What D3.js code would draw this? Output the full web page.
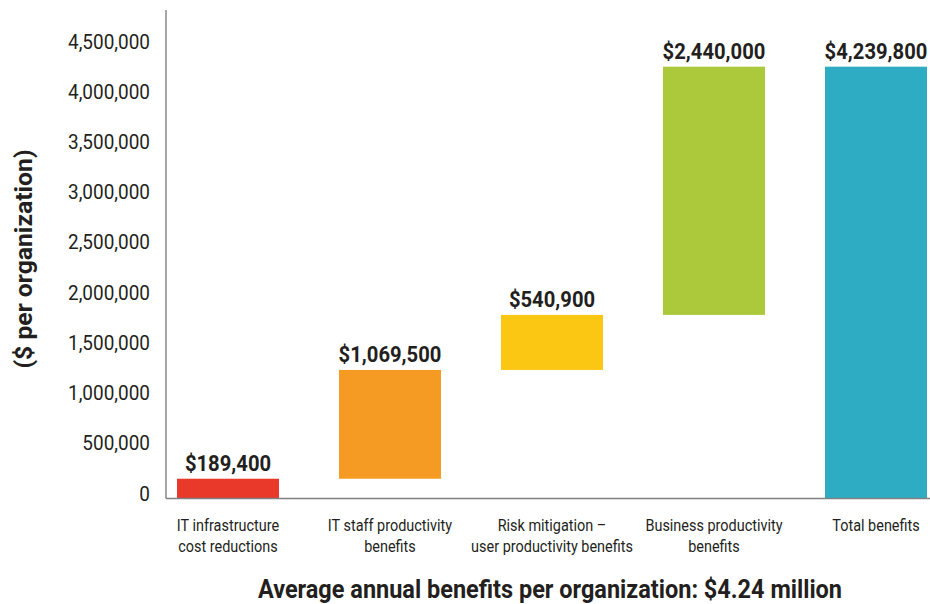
<!DOCTYPE html>
<html><head><meta charset="utf-8">
<script src="https://cdn.jsdelivr.net/npm/d3@7"></script>
<style>
body{margin:0;background:#fff;}
text{font-family:"Liberation Sans Narrow","Arial Narrow","Roboto",sans-serif;fill:#231f20;}
</style></head>
<body><svg id="c" width="930" height="604"></svg>
<script>
const categories = [["IT infrastructure","cost reductions"],["IT staff productivity","benefits"],["Risk mitigation –","user productivity benefits"],["Business productivity","benefits"],["Total benefits"]];
const values = [189400, 1069500, 540900, 2440000, 4239800];
const isTotal = [false, false, false, false, true];
const valueLabels = ["$189,400","$1,069,500","$540,900","$2,440,000","$4,239,800"];
const colors = ["#e8392a","#f59a23","#fcc712","#abc93a","#2eacc4"];
const yTicks = [0,500000,1000000,1500000,2000000,2500000,3000000,3500000,4000000,4500000];

const svg = d3.select("#c");
const keys = categories.map((c,i)=>i);
const x = d3.scaleBand().domain(keys).range([166,938]).paddingInner(0.3704).paddingOuter(0.0679);
const y = d3.scaleLinear().domain([0,4500000]).range([498,40.2]);
// tick labels in the original sit on a slightly tighter grid
const yLab = y.copy().range([498,46]);

function condense(sel, f){
  sel.each(function(){
    const t = d3.select(this);
    const xx = +(t.attr("x")||0);
    const prev = t.attr("transform") || "";
    t.attr("transform", prev + ` translate(${xx},0) scale(${f},1) translate(${-xx},0)`);
  });
}

let cum = 0;
const bars = values.map((v,i)=>{
  let s, e;
  if(isTotal[i]){ s=0; e=v; } else { s=cum; e=cum+v; cum=e; }
  return {i, s, e};
});

// y axis
const yAxis = d3.axisLeft(yLab).tickValues(yTicks).tickSize(0).tickPadding(16).tickFormat(d3.format(","));
const ga = svg.append("g").attr("transform","translate(166,0)").call(yAxis);
ga.select(".domain").remove();
ga.selectAll("text").attr("font-size","20.5px").attr("dy","0.1em").style("font-family",null).attr("fill","#231f20");
condense(ga.selectAll("text"), 0.925);
svg.append("line").attr("x1",166).attr("x2",166).attr("y1",10).attr("y2",498.5).attr("stroke","#808083").attr("stroke-width",1.4);

// bars
svg.selectAll("rect.bar").data(bars).join("rect")
  .attr("x",d=>x(d.i)).attr("width",x.bandwidth())
  .attr("y",d=>y(d.e)).attr("height",d=>y(d.s)-y(d.e))
  .attr("fill",d=>colors[d.i]);

// baseline
svg.append("line").attr("x1",166).attr("x2",930).attr("y1",498.5).attr("y2",498.5).attr("stroke","#808083").attr("stroke-width",1.4);

// value labels
const vl = svg.selectAll("text.val").data(bars).join("text")
  .attr("x",d=>x(d.i)+x.bandwidth()/2).attr("y",d=>y(d.e)-8)
  .attr("text-anchor","middle").attr("font-size","22px").attr("font-weight","bold")
  .text(d=>valueLabels[d.i]);
condense(vl, 0.92);

// category labels
const gl = svg.selectAll("text.cat").data(keys).join("text")
  .attr("text-anchor","middle").attr("font-size","17px")
  .attr("x",i=>x(i)+x.bandwidth()/2).attr("y",531);
gl.each(function(i){
  const t = d3.select(this);
  categories[i].forEach((ln,j)=>{
    t.append("tspan").attr("x",x(i)+x.bandwidth()/2).attr("y",531+j*21).text(ln);
  });
});
condense(gl, 0.85);

// y title
svg.append("text").attr("transform","translate(32,259) rotate(-90) scale(1.03,1)")
  .attr("text-anchor","middle").attr("font-size","24px").attr("font-weight","bold")
  .text("($ per organization)");

// bottom title
const bt = svg.append("text").attr("x",550).attr("y",598).attr("text-anchor","middle")
  .attr("font-size","25px").attr("font-weight","bold")
  .text("Average annual benefits per organization: $4.24 million");
condense(bt, 0.94);
</script></body></html>
